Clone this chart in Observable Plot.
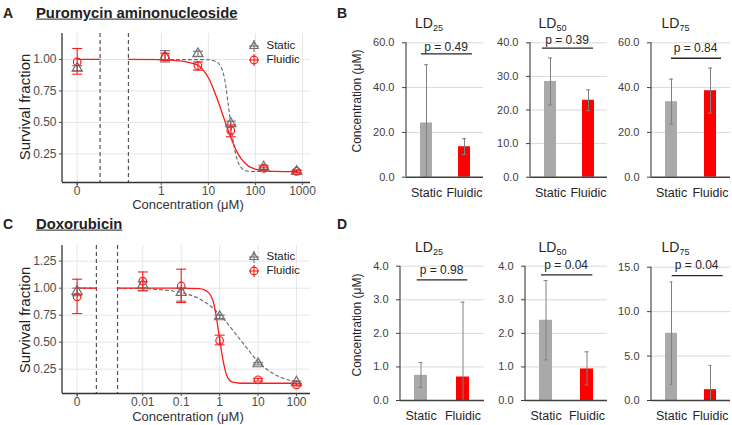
<!DOCTYPE html>
<html><head><meta charset="utf-8">
<script src="https://cdn.jsdelivr.net/npm/d3@7"></script>
<script src="https://cdn.jsdelivr.net/npm/@observablehq/plot@0.6"></script>
<style>
body{margin:0;background:#fff;font-family:"Liberation Sans",Arial,sans-serif;}
#fig{position:relative;width:732px;height:425px;overflow:hidden;background:#fff;}
.lbl{position:absolute;white-space:nowrap;line-height:1;}
sub{font-size:9px;vertical-align:-3px;}
</style></head><body><div id="fig"></div>
<script>
// ---------- Panel A: Puromycin aminonucleoside ----------
const aConc = [0, 1.2, 6, 30, 150, 750];
const aStaticMean = [0.93, 1.02, 1.045, 0.49, 0.145, 0.11];
const aStaticLo   = [0.91, 0.98, 1.025, 0.47, 0.13, 0.10];
const aStaticHi   = [0.95, 1.07, 1.065, 0.51, 0.16, 0.12];
const aFluidicMean = [0.98, 1.02, 0.95, 0.435, 0.135, 0.112];
const aFluidicLo   = [0.883, 0.99, 0.915, 0.386, 0.125, 0.10];
const aFluidicHi   = [1.087, 1.05, 0.98, 0.48, 0.145, 0.122];
const aFitStaticConc = [0.2, 10, 15, 18, 20, 22, 24, 26, 28, 30, 33, 36, 40, 45, 50, 60, 80, 120, 800];
const aFitStatic     = [1.0, 0.998, 0.98, 0.95, 0.91, 0.85, 0.76, 0.66, 0.57, 0.48, 0.37, 0.29, 0.215, 0.165, 0.14, 0.118, 0.111, 0.11, 0.11];
const aFitFluidicConc = [0.2, 1, 2, 4, 6, 8, 10, 13, 16, 20, 25, 30, 40, 50, 70, 100, 150, 250, 800];
const aFitFluidic     = [1.0, 0.998, 0.99, 0.975, 0.955, 0.91, 0.855, 0.76, 0.67, 0.565, 0.46, 0.38, 0.27, 0.21, 0.155, 0.13, 0.118, 0.112, 0.11];
const aXTicks = [1, 10, 100, 1000];
const aYTicks = [0.25, 0.5, 0.75, 1.0];

// ---------- Panel C: Doxorubicin ----------
const cConc = [0, 0.01, 0.1, 1, 10, 100];
const cStaticMean = [0.97, 1.03, 0.96, 0.735, 0.30, 0.13];
const cStaticLo   = [0.93, 0.98, 0.88, 0.72, 0.29, 0.12];
const cStaticHi   = [1.00, 1.06, 1.00, 0.75, 0.31, 0.14];
const cFluidicMean = [0.92, 1.065, 1.02, 0.515, 0.152, 0.105];
const cFluidicLo   = [0.765, 0.975, 0.867, 0.475, 0.14, 0.095];
const cFluidicHi   = [1.083, 1.15, 1.176, 0.565, 0.165, 0.115];
const cFitStaticConc = [0.0022, 0.01, 0.03, 0.1, 0.3, 0.6, 1, 2, 3, 5, 10, 20, 50, 100];
const cFitStatic     = [1.0, 0.996, 0.985, 0.96, 0.9, 0.83, 0.755, 0.63, 0.55, 0.45, 0.32, 0.23, 0.16, 0.135];
const cFitFluidicConc = [0.0022, 0.01, 0.1, 0.3, 0.45, 0.6, 0.7, 0.8, 0.9, 1.0, 1.1, 1.2, 1.35, 1.5, 1.8, 2.2, 3, 5, 100];
const cFitFluidic     = [1.0, 1.0, 1.0, 0.995, 0.975, 0.925, 0.86, 0.76, 0.64, 0.53, 0.43, 0.35, 0.26, 0.2, 0.15, 0.13, 0.122, 0.12, 0.12];
const cXTicks = [0.01, 0.1, 1, 10, 100];
const cYTicks = [0.25, 0.5, 0.75, 1.0, 1.25];

// ---------- Panels B and D: lethal doses ----------
const groups = ["Static", "Fluidic"];
const ldNames = ["25", "50", "75"];
const bMean = [[24.2, 13.6], [28.5, 22.9], [33.7, 38.6]];
const bLo   = [[0, 10.1], [21.5, 19.8], [23.7, 28.6]];
const bHi   = [[50.2, 17.2], [35.5, 26.0], [43.8, 48.7]];
const bP    = ["0.49", "0.39", "0.84"];
const bYMax = [60, 40, 60];
const bYStep = [20, 10, 20];
const dMean = [[0.75, 0.70], [2.39, 0.94], [7.56, 1.22]];
const dLo   = [[0.39, 0], [1.21, 0.46], [1.82, 0]];
const dHi   = [[1.13, 2.93], [3.57, 1.45], [13.35, 3.95]];
const dP    = ["0.98", "0.04", "0.04"];
const dYMax = [4, 4, 15];
const dYStep = [1, 1, 5];

// ---------- helpers ----------
const fig = document.getElementById("fig");
const FONT = "Liberation Sans, Arial, sans-serif";
function label(html, x, y, css = "", anchor = "center", rotate = false) {
  const d = document.createElement("div");
  d.className = "lbl";
  d.innerHTML = html;
  const tx = anchor === "left" ? "0" : "-50%";
  d.style.cssText += `left:${x}px;top:${y}px;transform:translate(${tx},-50%)${rotate ? " rotate(-90deg)" : ""};transform-origin:${anchor === "left" ? "0 50%" : "50% 50%"};` + css;
  fig.appendChild(d);
  return d;
}
function place(node, left, top) {
  node.style.position = "absolute";
  node.style.left = left + "px";
  node.style.top = top + "px";
  fig.appendChild(node);
}
const capSymbol = { draw(ctx, size) { const w = Math.sqrt(size / Math.PI); ctx.moveTo(-w, 0); ctx.lineTo(w, 0); } };
const tickDown = { draw(ctx, size) { const h = Math.sqrt(size / Math.PI); ctx.moveTo(0, 0); ctx.lineTo(0, h); } };
const leftLine = (color, w) => (index, scales, values, dims) => {
  const l = document.createElementNS("http://www.w3.org/2000/svg", "line");
  l.setAttribute("x1", dims.marginLeft); l.setAttribute("x2", dims.marginLeft);
  l.setAttribute("y1", dims.marginTop); l.setAttribute("y2", dims.height - dims.marginBottom);
  l.setAttribute("stroke", color); l.setAttribute("stroke-width", w);
  return l;
};
const GRAY = "#707070", RED = "#ff1a1a", GRID = "#e6e6e6";

function curvePanel(o) {
  const pos = c => (c === 0 ? o.zero : c);
  const idx = d3.range(o.conc.length);
  const sI = d3.range(o.fitSConc.length), fI = d3.range(o.fitFConc.length);
  const X = i => pos(o.conc[i]);
  return Plot.plot({
    width: 340, height: 215, marginLeft: 62, marginRight: 30, marginTop: o.mt, marginBottom: o.mb,
    style: { background: "transparent", overflow: "visible", fontFamily: FONT, fontSize: "12px", color: "#4d4d4d" },
    x: { type: "log", domain: o.xDomain },
    y: { domain: o.yDomain },
    marks: [
      Plot.gridX(o.xTicks, { stroke: GRID, strokeOpacity: 1 }),
      Plot.ruleX([o.zero], { x: d => d, stroke: GRID, strokeOpacity: 1 }),
      Plot.gridY(o.yTicks, { stroke: GRID, strokeOpacity: 1 }),
      Plot.ruleX(o.breaks, { stroke: "#555", strokeDasharray: "4,3", strokeWidth: 1.2 }),
      Plot.line([o.zero, o.breaks[0]], { x: d => d, y: () => o.fitS[0], stroke: "#666", strokeDasharray: "3,3", strokeWidth: 1.1 }),
      Plot.line(sI, { x: i => o.fitSConc[i], y: i => o.fitS[i], stroke: "#666", strokeDasharray: "3,3", strokeWidth: 1.1, curve: "monotone-x" }),
      Plot.line([o.zero, o.breaks[0]], { x: d => d, y: () => o.fitF[0], stroke: RED, strokeWidth: 1.3 }),
      Plot.line(fI, { x: i => o.fitFConc[i], y: i => o.fitF[i], stroke: RED, strokeWidth: 1.3, curve: "monotone-x" }),
      Plot.ruleX(idx, { x: X, y1: i => o.sLo[i], y2: i => o.sHi[i], stroke: GRAY, strokeWidth: 1.1 }),
      Plot.dot(idx, { x: X, y: i => o.sLo[i], symbol: capSymbol, r: 5, stroke: GRAY, fill: "none", strokeWidth: 1.1 }),
      Plot.dot(idx, { x: X, y: i => o.sHi[i], symbol: capSymbol, r: 5, stroke: GRAY, fill: "none", strokeWidth: 1.1 }),
      Plot.dot(idx, { x: X, y: i => o.sMean[i], symbol: "triangle", r: 3.8, stroke: GRAY, fill: "none", strokeWidth: 1.2 }),
      Plot.ruleX(idx, { x: X, y1: i => o.fLo[i], y2: i => o.fHi[i], stroke: RED, strokeWidth: 1.1 }),
      Plot.dot(idx, { x: X, y: i => o.fLo[i], symbol: capSymbol, r: 5, stroke: RED, fill: "none", strokeWidth: 1.1 }),
      Plot.dot(idx, { x: X, y: i => o.fHi[i], symbol: capSymbol, r: 5, stroke: RED, fill: "none", strokeWidth: 1.1 }),
      Plot.dot(idx, { x: X, y: i => o.fMean[i], symbol: "circle", r: 3.8, stroke: RED, fill: "none", strokeWidth: 1.2 }),
      Plot.ruleY([o.yDomain[0]], { stroke: "#333", strokeWidth: 1.3 }),
      leftLine("#333", 1.3),
      Plot.axisX({ ticks: o.xTicks, tickFormat: d => String(d), tickSize: 3, tickPadding: 1, fontSize: 12, label: null }),
      Plot.dot([o.zero], { x: d => d, y: () => o.yDomain[0], symbol: tickDown, r: 3, stroke: "#4d4d4d", fill: "none" }),
      Plot.text([o.zero], { x: d => d, text: () => "0", frameAnchor: "bottom", lineAnchor: "top", dy: 4, fontSize: 12, fill: "#4d4d4d" }),
      Plot.axisY({ ticks: o.yTicks, tickFormat: d3.format(".2f"), tickSize: 3, tickPadding: 3, fontSize: 12, label: null })
    ]
  });
}

function barPanel(o) {
  const data = groups.map((g, i) => ({ group: g, value: o.mean[i], lo: o.lo[i], hi: o.hi[i] }));
  const ticks = d3.range(0, o.ymax + o.step / 2, o.step);
  return Plot.plot({
    width: o.width, height: 215, marginLeft: 50, marginRight: o.mr, marginTop: o.mt, marginBottom: o.mb,
    style: { background: "transparent", overflow: "visible", fontFamily: FONT, fontSize: "11px", color: "#404040" },
    x: { domain: groups, paddingInner: o.pad, paddingOuter: o.pad / 2 },
    y: { domain: [0, o.ymax] },
    color: { domain: groups, range: ["#a9a9a9", "#ff0000"] },
    marks: [
      Plot.gridY(ticks.filter(t => t > 0), { stroke: "#d9d9d9", strokeOpacity: 1 }),
      Plot.barY(data, { x: "group", y: "value", fill: "group" }),
      Plot.ruleX(data, { x: "group", y1: "lo", y2: "hi", stroke: "#808080", strokeWidth: 1 }),
      Plot.tickY(data, { x: "group", y: "hi", stroke: "#808080", insetLeft: o.capInset, insetRight: o.capInset }),
      Plot.tickY(data, { x: "group", y: "lo", stroke: "#808080", insetLeft: o.capInset, insetRight: o.capInset }),
      Plot.ruleY([0], { stroke: "#404040", strokeWidth: 1.4 }),
      leftLine("#595959", 1.3),
      Plot.ruleY([o.pLine], { insetLeft: o.il, insetRight: o.ir, stroke: "#262626", strokeWidth: 1.3 }),
      Plot.text([o.p], { text: d => "p = " + d, y: () => o.pText, frameAnchor: "middle", dx: (o.il - o.ir) / 2 - 1, fontSize: 12, fill: "#262626" }),
      Plot.axisY({ ticks, tickFormat: d3.format(".1f"), tickSize: 4, tickPadding: 8, fontSize: 11, label: null }),
      Plot.axisX({ tickSize: 0, tickPadding: 11, fontSize: 12.5, fill: "#262626", label: null })
    ]
  });
}

// ---------- draw A and C ----------
place(curvePanel({
  conc: aConc, sMean: aStaticMean, sLo: aStaticLo, sHi: aStaticHi, fMean: aFluidicMean, fLo: aFluidicLo, fHi: aFluidicHi,
  fitSConc: aFitStaticConc, fitS: aFitStatic, fitFConc: aFitFluidicConc, fitF: aFitFluidic,
  zero: 0.0163, breaks: [0.05, 0.2], xDomain: [0.00794, 1479], yDomain: [0.023, 1.206],
  xTicks: aXTicks, yTicks: aYTicks, mt: 33, mb: 33
}), 0, 0);
place(curvePanel({
  conc: cConc, sMean: cStaticMean, sLo: cStaticLo, sHi: cStaticHi, fMean: cFluidicMean, fLo: cFluidicLo, fHi: cFluidicHi,
  fitSConc: cFitStaticConc, fitS: cFitStatic, fitFConc: cFitFluidicConc, fitF: cFitFluidic,
  zero: 0.000195, breaks: [0.00062, 0.0022], xDomain: [8.13e-5, 231.7], yDomain: [0.025, 1.395],
  xTicks: cXTicks, yTicks: cYTicks, mt: 35, mb: 32
}), 0, 210);

// ---------- draw B and D ----------
const bGeom = [
  { left: 356, width: 132, mr: 5, il: 15, ir: 11, pLine: 55.1, pText: 58.0 },
  { left: 480, width: 132, mr: 5, il: 12, ir: 14, pLine: 38.4, pText: 40.9 },
  { left: 601, width: 131, mr: 2, il: 20, ir: 9, pLine: 53.1, pText: 57.6 }
];
bGeom.forEach((g, k) => place(barPanel({
  mean: bMean[k], lo: bLo[k], hi: bHi[k], p: bP[k], ymax: bYMax[k], step: bYStep[k],
  width: g.width, mr: g.mr, mt: 42.3, mb: 38.3, pad: 0.69, capInset: 4,
  il: g.il, ir: g.ir, pLine: g.pLine, pText: g.pText
}), g.left, 0));
const dGeom = [
  { left: 350, width: 138, mr: 4, mt: 55.7, il: 16.7, ir: 16.7, pLine: 3.59, pText: 3.87 },
  { left: 475, width: 136, mr: 4, mt: 55.7, il: 16, ir: 14.7, pLine: 3.74, pText: 4.02 },
  { left: 601, width: 131, mr: 2, mt: 56.7, il: 20.7, ir: 7.3, pLine: 14.06, pText: 15.2 }
];
dGeom.forEach((g, k) => place(barPanel({
  mean: dMean[k], lo: dLo[k], hi: dHi[k], p: dP[k], ymax: dYMax[k], step: dYStep[k],
  width: g.width, mr: g.mr, mt: g.mt, mb: 25, pad: 0.68, capInset: 4.5,
  il: g.il, ir: g.ir, pLine: g.pLine, pText: g.pText
}), g.left, 210));

// ---------- texts ----------
const bold = "font-weight:bold;color:#222;";
label("A", 3, 13, bold + "font-size:14px;", "left");
label("Puromycin aminonucleoside", 36, 13, bold + "font-size:14.8px;text-decoration:underline;", "left");
label("C", 3, 224, bold + "font-size:14px;", "left");
label("Doxorubicin", 36, 224, bold + "font-size:14.8px;text-decoration:underline;", "left");
label("B", 337, 13, bold + "font-size:14px;", "left");
label("D", 337, 224, bold + "font-size:14px;", "left");

label("Survival fraction", 24, 107, "font-size:15px;color:#222;", "center", true);
label("Survival fraction", 24, 320, "font-size:15px;color:#222;", "center", true);
label("Concentration (μM)", 188, 204, "font-size:13px;color:#333;");
label("Concentration (μM)", 188, 416, "font-size:13px;color:#333;");
label("Concentration (μM)", 357, 101, "font-size:12px;color:#262626;", "center", true);
label("Concentration (μM)", 357, 325, "font-size:12px;color:#262626;", "center", true);

const ldX = [429, 552.5, 675.5];
ldNames.forEach((n, k) => {
  label(`LD<sub>${n}</sub>`, ldX[k], 24, "font-size:14px;color:#262626;");
  label(`LD<sub>${n}</sub>`, ldX[k], 248, "font-size:14px;color:#262626;");
});

// legends
function legend(x, y) {
  const items = [["Static", GRAY, "tri"], ["Fluidic", RED, "circ"]];
  items.forEach(([name, col, shape], i) => {
    const cy = y + i * 14.3;
    const s = document.createElementNS("http://www.w3.org/2000/svg", "svg");
    s.setAttribute("width", 16); s.setAttribute("height", 16);
    const glyph = shape === "tri"
      ? `<path d="M8,3.2L12.2,10.5L3.8,10.5Z" fill="none" stroke="${col}" stroke-width="1.2"/>`
      : `<circle cx="8" cy="8" r="3.8" fill="none" stroke="${col}" stroke-width="1.2"/>`;
    s.innerHTML = `<line x1="8" x2="8" y1="2" y2="14" stroke="${col}" stroke-width="1.1"/><line x1="3" x2="13" y1="8" y2="8" stroke="${col}" stroke-width="1.1"/>` + glyph;
    place(s, x - 8, cy - 8);
    label(name, x + 12.5, cy, "font-size:11.5px;color:#222;", "left");
  });
}
legend(254, 45.7);
legend(254, 256.7);
</script></body></html>
